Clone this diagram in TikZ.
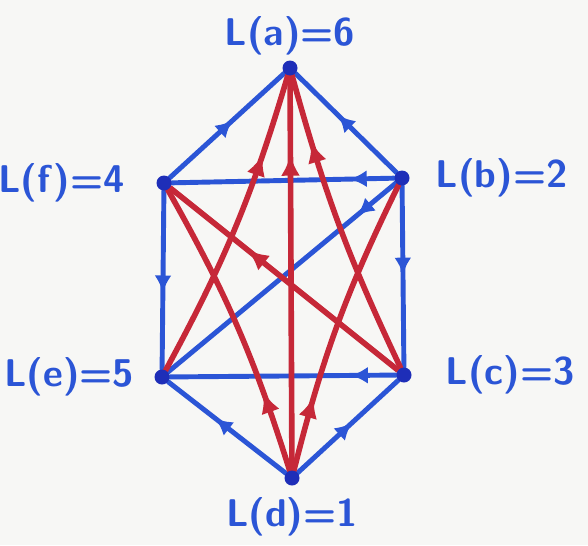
\documentclass[tikz,border=0pt]{standalone}
\usetikzlibrary{arrows.meta,positioning,decorations.markings,backgrounds}
\definecolor{pen}{HTML}{2B55D6}
\definecolor{penred}{HTML}{C62838}
\definecolor{dotblue}{HTML}{1E2EB8}
\definecolor{paper}{HTML}{F7F7F5}
\tikzset{
  vertex/.style={circle, fill=dotblue, inner sep=0pt, minimum size=3mm},
  lbl/.style={font=\sffamily\bfseries\fontsize{22}{26}\selectfont, text=pen, inner sep=1pt},
  blueedge/.style={pen, line width=2.8pt, line cap=round},
  rededge/.style={penred, line width=3.2pt, line cap=round},
  btip/.style={postaction={decorate}, decoration={markings, mark=at position #1 with {\arrow{Latex[length=3.4mm,width=3.4mm]}}}},
  rtip/.style={postaction={decorate}, decoration={markings, mark=at position #1 with {\arrow{Latex[length=4.2mm,width=3.8mm]}}}},
}
\begin{document}
\begin{tikzpicture}[x=0.02cm, y=-0.02cm]
\useasboundingbox (0,0) rectangle (588,545);
% vertices
\node[vertex] (a) at (290,68) {};
\node[vertex] (b) at (402,178) {};
\node[vertex] (c) at (404,375) {};
\node[vertex] (d) at (292,478) {};
\node[vertex] (e) at (162,377) {};
\node[vertex] (f) at (164,183) {};
% labels
\node[lbl, above=0.6mm of a] (la) {L(a)=6};
\node[lbl, right=4.8mm of b] (lb) {L(b)=2};
\node[lbl, right=6.4mm of c] (lc) {L(c)=3};
\node[lbl, below=2mm of d] (ld) {L(d)=1};
\node[lbl, left=3.6mm of e] (le) {L(e)=5};
\node[lbl, left=5.9mm of f] (lf) {L(f)=4};
\begin{scope}[on background layer]
\fill[paper] (0,0) rectangle (588,545);
% blue edges
\draw[blueedge, btip=0.55] (f) -- (a);
\draw[blueedge, btip=0.58] (b) -- (a);
\draw[blueedge, btip=0.2] (b) -- (f);
\draw[blueedge, btip=0.17] (b) -- (e);
\draw[blueedge, btip=0.57] (f) -- (e);
\draw[blueedge, btip=0.49] (b) -- (c);
\draw[blueedge, btip=0.2] (c) -- (e);
\draw[blueedge, btip=0.6] (d) -- (e);
\draw[blueedge, btip=0.54] (d) -- (c);
% red edges
\draw[rededge, rtip=0.74] (e) to[bend right=6] (a);
\draw[rededge, rtip=0.8] (d) -- (a);
\draw[rededge, rtip=0.78] (c) to[bend left=5] (a);
\draw[rededge, rtip=0.66] (c) -- (f);
\draw[rededge, rtip=0.27] (d) to[bend right=6] (f);
\draw[rededge, rtip=0.25] (d) to[bend left=6] (b);
\end{scope}
\end{tikzpicture}
\end{document}
